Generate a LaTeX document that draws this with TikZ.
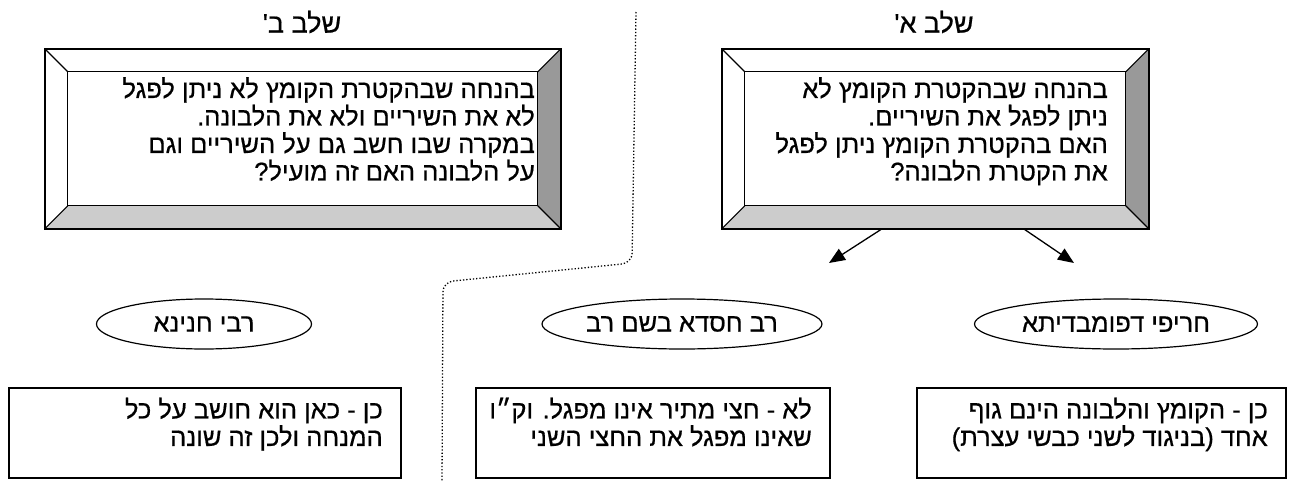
\documentclass[tikz,border=0pt]{standalone}
\usepackage{fontspec}
\setmainfont{Liberation Serif}
\newfontfamily\heb[Script=Hebrew,FakeBold=0.6]{Liberation Sans}
\TeXXeTstate=1
\usetikzlibrary{arrows.meta,shapes.geometric}
\newcommand\RL[1]{\beginR #1\endR}
\definecolor{bevdark}{HTML}{999999}
\definecolor{bevlight}{HTML}{CCCCCC}
\tikzset{
  bevel/.style={draw=black, line width=1.6pt, fill=white, inner sep=0pt,
    path picture={
      \coordinate (pNE) at (path picture bounding box.north east);
      \coordinate (pNW) at (path picture bounding box.north west);
      \coordinate (pSE) at (path picture bounding box.south east);
      \coordinate (pSW) at (path picture bounding box.south west);
      \coordinate (qNE) at ([shift={(-23pt,-23pt)}]pNE);
      \coordinate (qNW) at ([shift={(23pt,-23pt)}]pNW);
      \coordinate (qSE) at ([shift={(-23pt,23pt)}]pSE);
      \coordinate (qSW) at ([shift={(23pt,23pt)}]pSW);
      \fill[bevdark] (pNE) -- (pSE) -- (qSE) -- (qNE) -- cycle;
      \fill[bevlight] (pSW) -- (pSE) -- (qSE) -- (qSW) -- cycle;
      \draw[line width=1.1pt] (qNE) -- (qNW) -- (qSW) -- (qSE) -- cycle;
      \draw[line width=1.1pt] (pNE) -- (qNE) (pNW) -- (qNW) (pSE) -- (qSE) (pSW) -- (qSW);
    }},
  hfont/.style={font=\heb\fontsize{25.5}{27.5}\selectfont},
  htxt/.style={hfont, align=right, inner sep=0pt},
  title/.style={inner sep=0pt, font=\heb\fontsize{27}{30}\selectfont},
  answer/.style={draw=black, line width=1.5pt, inner sep=0pt, minimum height=90pt, anchor=north west},
  sage/.style={hfont, draw=black, ellipse, line width=1.2pt, inner sep=0pt, minimum height=50pt},
  arr/.style={line width=1.3pt, -{Triangle[length=16pt,width=13pt]}},
}
\begin{document}
\begin{tikzpicture}[x=1pt,y=-1pt]
\useasboundingbox (0,0) rectangle (1294,482);
% titles
\node[title] (titB) at (302,22) {\RL{שלב ב'}};
\node[title] (titA) at (934,22) {\RL{שלב א'}};
% bevel boxes
\node[bevel, minimum width=516pt, minimum height=180pt, anchor=north west] (boxB) at (44,48) {};
\node[bevel, minimum width=427pt, minimum height=180pt, anchor=north west] (boxA) at (721,48) {};
\node[htxt, anchor=north east] (txtB) at (535,77) {\RL{בהנחה שבהקטרת הקומץ לא ניתן לפגל}\\\RL{לא את השיריים ולא את הלבונה.}\\\RL{במקרה שבו חשב גם על השיריים וגם}\\\RL{על הלבונה האם זה מועיל?}};
\node[htxt, anchor=north east] (txtA) at (1108,77) {\RL{בהנחה שבהקטרת הקומץ לא}\\\RL{ניתן לפגל את השיריים.}\\\RL{האם בהקטרת הקומץ ניתן לפגל}\\\RL{את הקטרת הלבונה?}};
% arrows
\coordinate (endL) at (829,263);
\coordinate (endR) at (1074,263);
\draw[arr] ([xshift=-54.5pt]boxA.south) -- (endL);
\draw[arr] ([xshift=89.5pt]boxA.south) -- (endR);
% dotted divider
\draw[dotted, line width=1.3pt, rounded corners=10pt] (636,12) -- (632,263) -- (443,282) -- (442,482);
% sages
\node[sage, minimum width=215pt] (sage3) at (204,324) {\RL{רבי חנינא}};
\node[sage, minimum width=280pt] (sage2) at (682,324) {\RL{רב חסדא בשם רב}};
\node[sage, minimum width=283pt] (sage1) at (1116,324) {\RL{חריפי דפומבדיתא}};
% answers
\node[answer, minimum width=392pt] (ans3) at (8,387) {};
\node[answer, minimum width=354pt] (ans2) at (475,387) {};
\node[answer, minimum width=369pt] (ans1) at (916,387) {};
\node[htxt, anchor=north east] (at3) at (383,397.5) {\RL{כן - כאן הוא חושב על כל}\\\RL{המנחה ולכן זה שונה}};
\node[htxt, anchor=north east] (at2) at (812,397.5) {\RL{לא - חצי מתיר אינו מפגל. וק״ו}\\\RL{שאינו מפגל את החצי השני}};
\node[htxt, anchor=north east] (at1) at (1268,397.5) {\RL{כן - הקומץ והלבונה הינם גוף}\\\RL{אחד (בניגוד לשני כבשי עצרת)}};
\end{tikzpicture}
\end{document}
